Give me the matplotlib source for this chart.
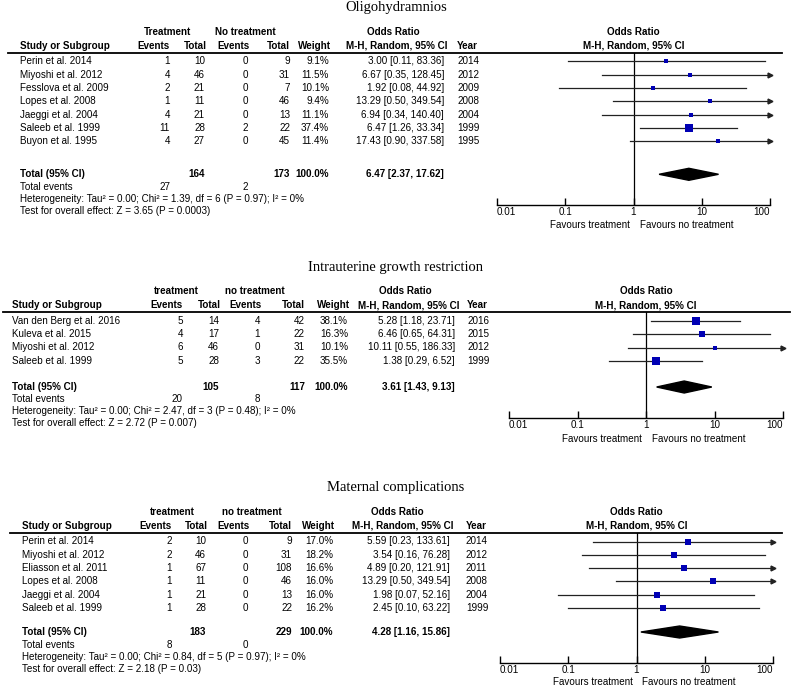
import matplotlib.pyplot as plt
import numpy as np

# ---- data: Oligohydramnios ----
oligo_studies = ['Perin et al. 2014', 'Miyoshi et al. 2012', 'Fesslova et al. 2009', 'Lopes et al. 2008',
                 'Jaeggi et al. 2004', 'Saleeb et al. 1999', 'Buyon et al. 1995']
oligo_ev_t = [1, 4, 2, 1, 4, 11, 4]
oligo_tot_t = [10, 46, 21, 11, 21, 28, 27]
oligo_ev_c = [0, 0, 0, 0, 0, 2, 0]
oligo_tot_c = [9, 31, 7, 46, 13, 22, 45]
oligo_weight = [9.1, 11.5, 10.1, 9.4, 11.1, 37.4, 11.4]
oligo_or = [3.00, 6.67, 1.92, 13.29, 6.94, 6.47, 17.43]
oligo_lo = [0.11, 0.35, 0.08, 0.50, 0.34, 1.26, 0.90]
oligo_hi = [83.36, 128.45, 44.92, 349.54, 140.40, 33.34, 337.58]
oligo_year = [2014, 2012, 2009, 2008, 2004, 1999, 1995]
oligo_totals = [164, 173]
oligo_events = [27, 2]
oligo_pooled = [6.47, 2.37, 17.62]
oligo_het = 'Heterogeneity: Tau² = 0.00; Chi² = 1.39, df = 6 (P = 0.97); I² = 0%'
oligo_test = 'Test for overall effect: Z = 3.65 (P = 0.0003)'

# ---- data: Intrauterine growth restriction ----
iugr_studies = ['Van den Berg et al. 2016', 'Kuleva et al. 2015', 'Miyoshi et al. 2012', 'Saleeb et al. 1999']
iugr_ev_t = [5, 4, 6, 5]
iugr_tot_t = [14, 17, 46, 28]
iugr_ev_c = [4, 1, 0, 3]
iugr_tot_c = [42, 22, 31, 22]
iugr_weight = [38.1, 16.3, 10.1, 35.5]
iugr_or = [5.28, 6.46, 10.11, 1.38]
iugr_lo = [1.18, 0.65, 0.55, 0.29]
iugr_hi = [23.71, 64.31, 186.33, 6.52]
iugr_year = [2016, 2015, 2012, 1999]
iugr_totals = [105, 117]
iugr_events = [20, 8]
iugr_pooled = [3.61, 1.43, 9.13]
iugr_het = 'Heterogeneity: Tau² = 0.00; Chi² = 2.47, df = 3 (P = 0.48); I² = 0%'
iugr_test = 'Test for overall effect: Z = 2.72 (P = 0.007)'

# ---- data: Maternal complications ----
mat_studies = ['Perin et al. 2014', 'Miyoshi et al. 2012', 'Eliasson et al. 2011', 'Lopes et al. 2008',
               'Jaeggi et al. 2004', 'Saleeb et al. 1999']
mat_ev_t = [2, 2, 1, 1, 1, 1]
mat_tot_t = [10, 46, 67, 11, 21, 28]
mat_ev_c = [0, 0, 0, 0, 0, 0]
mat_tot_c = [9, 31, 108, 46, 13, 22]
mat_weight = [17.0, 18.2, 16.6, 16.0, 16.0, 16.2]
mat_or = [5.59, 3.54, 4.89, 13.29, 1.98, 2.45]
mat_lo = [0.23, 0.16, 0.20, 0.50, 0.07, 0.10]
mat_hi = [133.61, 76.28, 121.91, 349.54, 52.16, 63.22]
mat_year = [2014, 2012, 2011, 2008, 2004, 1999]
mat_totals = [183, 229]
mat_events = [8, 0]
mat_pooled = [4.28, 1.16, 15.86]
mat_het = 'Heterogeneity: Tau² = 0.00; Chi² = 0.84, df = 5 (P = 0.97); I² = 0%'
mat_test = 'Test for overall effect: Z = 2.18 (P = 0.03)'

W, H = 793, 693
FS = 7.1
SANS = 'Liberation Sans'
SQ_COLOR = '#0000b4'

fig = plt.figure(figsize=(W / 100, H / 100), dpi=100)
bg = fig.add_axes([0, 0, 1, 1])
bg.set_xlim(0, W)
bg.set_ylim(H, 0)
bg.axis('off')


def txt(x, y, s, ha='left', bold=False, **kw):
    bg.text(x, y, s, ha=ha, va='center', fontsize=FS, family=SANS,
            fontweight='bold' if bold else 'normal', **kw)


def draw_panel(title, grp1, grp2, studies, ev_t, tot_t, ev_c, tot_c, weight, orv, lo, hi, year,
               totals, events, pooled, het, test, top, cols, grp_x, fx, line_x,
               row_step=13.3, tot_gap=33, fav_gap=20):
    # cols: study, ev_t, tot_t, ev_c, tot_c, weight, or, year, centre of table OR header
    c_st, c_et, c_tt, c_ec, c_tc, c_w, c_or, c_yr, c_orh = cols
    bg.text(396, top, title, ha='center', va='center', fontsize=10.5, family='Liberation Serif')
    h1, h2, line_y = top + 24, top + 38, top + 44.5
    txt(grp_x[0], h1, grp1, ha='center', bold=True)
    txt(grp_x[1], h1, grp2, ha='center', bold=True)
    txt(c_orh, h1, 'Odds Ratio', ha='center', bold=True)
    txt((fx[0] + fx[1]) / 2, h1, 'Odds Ratio', ha='center', bold=True)
    txt(c_st, h2, 'Study or Subgroup', bold=True)
    txt(c_et, h2, 'Events', ha='right', bold=True)
    txt(c_tt + 2, h2, 'Total', ha='right', bold=True)
    txt(c_ec + 2, h2, 'Events', ha='right', bold=True)
    txt(c_tc, h2, 'Total', ha='right', bold=True)
    txt(c_w + 2, h2, 'Weight', ha='right', bold=True)
    txt(c_or + 4, h2, 'M-H, Random, 95% CI', ha='right', bold=True)
    txt(c_yr, h2, 'Year', bold=True)
    txt((fx[0] + fx[1]) / 2, h2, 'M-H, Random, 95% CI', ha='center', bold=True)
    bg.plot(line_x, [line_y, line_y], color='k', lw=1.3)

    rows = [line_y + 9 + i * row_step for i in range(len(studies))]
    for i, y in enumerate(rows):
        txt(c_st, y, studies[i])
        txt(c_et, y, str(ev_t[i]), ha='right')
        txt(c_tt, y, str(tot_t[i]), ha='right')
        txt(c_ec, y, str(ev_c[i]), ha='right')
        txt(c_tc, y, str(tot_c[i]), ha='right')
        txt(c_w, y, f'{weight[i]:.1f}%', ha='right')
        txt(c_or, y, f'{orv[i]:.2f} [{lo[i]:.2f}, {hi[i]:.2f}]', ha='right')
        txt(c_yr, y, str(year[i]))
    y_tot = rows[-1] + tot_gap
    txt(c_st, y_tot, 'Total (95% CI)', bold=True)
    txt(c_tt, y_tot, str(totals[0]), ha='right', bold=True)
    txt(c_tc, y_tot, str(totals[1]), ha='right', bold=True)
    txt(c_w, y_tot, '100.0%', ha='right', bold=True)
    txt(c_or, y_tot, f'{pooled[0]:.2f} [{pooled[1]:.2f}, {pooled[2]:.2f}]', ha='right', bold=True)
    txt(c_st, y_tot + 12.5, 'Total events')
    txt(c_et, y_tot + 12.5, str(events[0]), ha='right')
    txt(c_ec, y_tot + 12.5, str(events[1]), ha='right')
    txt(c_st, y_tot + 24.5, het)
    txt(c_st, y_tot + 36.5, test)

    # forest plot
    axis_y = y_tot + 31
    ax = fig.add_axes([fx[0] / W, 1 - axis_y / H, (fx[1] - fx[0]) / W, (axis_y - line_y) / H])
    ax.set_xscale('log')
    ax.set_xlim(0.01, 100)
    ax.set_ylim(axis_y, line_y)
    ax.patch.set_alpha(0)
    for s in ['top', 'left', 'right']:
        ax.spines[s].set_visible(False)
    ax.spines['bottom'].set_linewidth(1.0)
    ax.set_yticks([])
    ax.set_xticks([0.01, 0.1, 1, 10, 100])
    ax.set_xticklabels(['0.01', '0.1', '1', '10', '100'], fontsize=FS, family=SANS)
    ax.xaxis.set_minor_locator(plt.NullLocator())
    ax.tick_params(axis='x', direction='in', length=5, width=1.0, pad=1.5)
    labs = ax.get_xticklabels()
    labs[0].set_ha('left')
    labs[-1].set_ha('right')
    ax.axvline(1, color='k', lw=0.9)
    for i, y in enumerate(rows):
        right = min(hi[i], 100)
        ax.plot([max(lo[i], 0.01), right], [y, y], color='#222222', lw=0.9)
        if hi[i] > 100:
            ax.plot([100], [y], marker='>', color='#222222', markersize=3.5, clip_on=False)
        ax.plot([orv[i]], [y], marker='s', color=SQ_COLOR, markersize=1.35 * np.sqrt(weight[i]) / 1.389,
                markeredgewidth=0)
    ax.fill([pooled[1], pooled[0], pooled[2], pooled[0]], [y_tot, y_tot - 6, y_tot, y_tot + 6], color='k')
    xm = fx[0] + (fx[1] - fx[0]) / 2
    txt(xm - 4, axis_y + fav_gap, 'Favours treatment', ha='right')
    txt(xm + 6, axis_y + fav_gap, 'Favours no treatment', ha='left')


draw_panel('Oligohydramnios', 'Treatment', 'No treatment', oligo_studies, oligo_ev_t, oligo_tot_t,
           oligo_ev_c, oligo_tot_c, oligo_weight, oligo_or, oligo_lo, oligo_hi, oligo_year,
           oligo_totals, oligo_events, oligo_pooled, oligo_het, oligo_test,
           top=8, cols=(20, 170, 205, 248, 290, 329, 444, 457, 393), grp_x=(167, 245),
           fx=(497, 770), line_x=[8, 782], tot_gap=33, fav_gap=20)
draw_panel('Intrauterine growth restriction', 'treatment', 'no treatment', iugr_studies, iugr_ev_t,
           iugr_tot_t, iugr_ev_c, iugr_tot_c, iugr_weight, iugr_or, iugr_lo, iugr_hi, iugr_year,
           iugr_totals, iugr_events, iugr_pooled, iugr_het, iugr_test,
           top=267, cols=(12, 183, 219, 260, 305, 348, 455, 467, 405), grp_x=(176, 255),
           fx=(509, 783), line_x=[3, 790], row_step=13.5, tot_gap=26, fav_gap=21)
draw_panel('Maternal complications', 'treatment', 'no treatment', mat_studies, mat_ev_t, mat_tot_t,
           mat_ev_c, mat_tot_c, mat_weight, mat_or, mat_lo, mat_hi, mat_year,
           mat_totals, mat_events, mat_pooled, mat_het, mat_test,
           top=488, cols=(22, 172, 206, 248, 292, 333, 450, 466, 397), grp_x=(172, 252),
           fx=(500, 773), line_x=[10, 782], tot_gap=24, fav_gap=19)

fig.savefig('out.png', dpi=100)
